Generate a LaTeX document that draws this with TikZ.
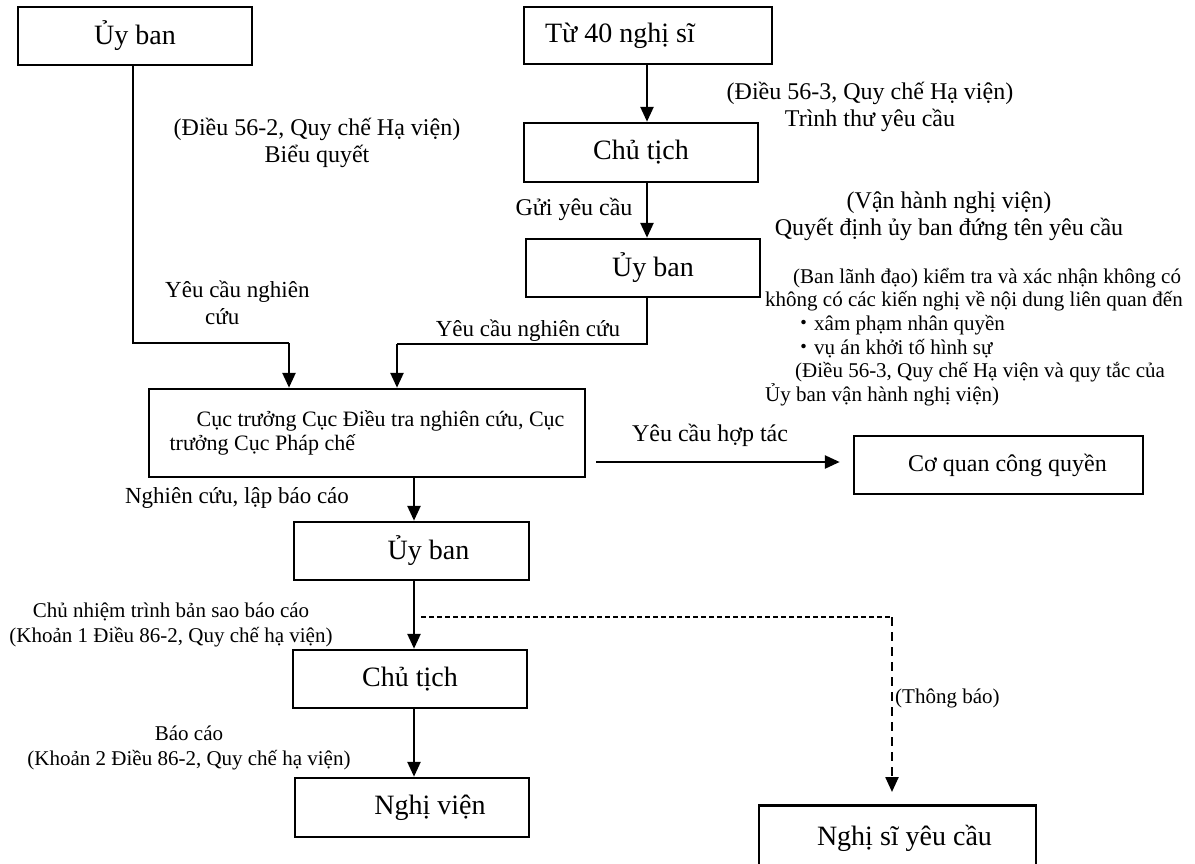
\documentclass[tikz,border=0pt]{standalone}
\usepackage{fontspec}
\setmainfont{Liberation Serif}
\newfontfamily\cjkjp{Noto Sans CJK JP}
\usetikzlibrary{arrows.meta}

\begin{document}
\begin{tikzpicture}[x=1pt,y=-1pt,
  box/.style={draw, line width=2.5pt, inner sep=0pt, font=\fontsize{28}{32}\selectfont},
  lbl/.style={inner sep=0pt, align=center, font=\fontsize{24}{27}\selectfont},
  lblm/.style={inner sep=0pt, align=center, font=\fontsize{23}{26}\selectfont},
  lbls/.style={inner sep=0pt, align=center, font=\fontsize{21}{25}\selectfont},
  fine/.style={line width=1.2pt},
  flow/.style={line width=2.6pt, -{Triangle[length=15pt,width=13pt]}},
  dashfine/.style={line width=1.2pt, dash pattern=on 5pt off 3pt},
  dashflow/.style={line width=2.4pt, dash pattern=on 9pt off 6pt, -{Triangle[length=15pt,width=13pt]}}
]
\useasboundingbox (0,0) rectangle (1195,863);
\fill[white] (0,0) rectangle (1195,863);

% boxes
\node[box, minimum width=234pt, minimum height=58pt] (ub1) at (135,36) {Ủy ban};
\node[box, minimum width=248pt, minimum height=57pt] (t40) at (648,35.5) {Từ 40 nghị sĩ\hspace*{56pt}};
\node[box, minimum width=234pt, minimum height=59pt] (ct1) at (641,152.5) {Chủ tịch};
\node[box, minimum width=234pt, minimum height=58pt] (ub2) at (643,268) {\hspace*{20pt}Ủy ban};
\node[box, minimum width=436pt, minimum height=88pt, align=left,
      font=\fontsize{22}{24}\selectfont] (cq) at (367,433)
  {\hspace*{27pt}Cục trưởng Cục Điều tra nghiên cứu, Cục\\trưởng Cục Pháp chế};
\node[box, minimum width=289pt, minimum height=58pt,
      font=\fontsize{24}{28}\selectfont] (cqq) at (998.5,465) {\hspace*{18pt}Cơ quan công quyền};
\node[box, minimum width=235pt, minimum height=58pt] (ub3) at (411.5,551) {\hspace*{34pt}Ủy ban};
\node[box, minimum width=234pt, minimum height=58pt] (ct2) at (410,679) {Chủ tịch};
\node[box, minimum width=234pt, minimum height=59pt] (nv) at (412,807.5) {\hspace*{36pt}Nghị viện};
\node[box, minimum width=277pt, minimum height=66pt, anchor=north] (nsyc) at (897.5,804)
  {\raisebox{6pt}{\hspace*{14pt}Nghị sĩ yêu cầu}};

% bend points and arrow columns
\coordinate (c1) at (647,0);
\coordinate (c2) at (414,0);
\coordinate (c3) at (0,462);
\coordinate (k1) at (133,343);
\coordinate (k2) at (289,343);
\coordinate (k3) at (647,344);
\coordinate (k4) at (397,344);
\coordinate (d1) at (892,617);

% connectors
\draw[flow] (t40.south -| c1) -- (ct1.north -| c1);
\draw[flow] (ct1.south -| c1) -- (ub2.north -| c1);
\draw[fine] (ub1.south -| k1) -- (k1) -- (k2);
\draw[flow] (k2) -- (k2 |- cq.north);
\draw[fine] (ub2.south -| k3) -- (k3) -- (k4);
\draw[flow] (k4) -- (k4 |- cq.north);
\draw[flow, shorten <=10pt, shorten >=13pt] (cq.east |- c3) -- (cqq.west |- c3);
\draw[flow] (cq.south -| c2) -- (ub3.north -| c2);
\draw[flow] (ub3.south -| c2) -- (ct2.north -| c2);
\draw[flow] (ct2.south -| c2) -- (nv.north -| c2);
\draw[dashfine, shorten <=7pt] (c2 |- d1) -- (d1);
\draw[dashflow, shorten >=12pt] (d1) -- (nsyc.north -| d1);

% labels
\node[lbl] (n562) at (317,143) {(Điều 56-2, Quy chế Hạ viện)\\Biểu quyết};
\node[lbl] (n563) at (870,107) {(Điều 56-3, Quy chế Hạ viện)\\Trình thư yêu cầu};
\node[lbl] (ngui) at (574,209) {Gửi yêu cầu};
\node[lbl] (nvh) at (949,216) {(Vận hành nghị viện)\\Quyết định ủy ban đứng tên yêu cầu};
\node[lbls, align=left, anchor=west, font=\fontsize{21}{23.6}\selectfont] (nbl) at (765,337)
  {\hspace*{28pt}(Ban lãnh đạo) kiểm tra và xác nhận không có\\
   không có các kiến nghị về nội dung liên quan đến\\
   \hspace*{28pt}{\cjkjp ・}xâm phạm nhân quyền\\
   \hspace*{28pt}{\cjkjp ・}vụ án khởi tố hình sự\\
   \hspace*{30pt}(Điều 56-3, Quy chế Hạ viện và quy tắc của\\
   Ủy ban vận hành nghị viện)};
\node[lblm, align=left, anchor=west, font=\fontsize{23}{27}\selectfont] (nyc1) at (165,303)
  {Yêu cầu nghiên\\\hspace*{40pt}cứu};
\node[lblm] (nyc2) at (528,331) {Yêu cầu nghiên cứu};
\node[lbl] (nht) at (710,435) {Yêu cầu hợp tác};
\node[lblm] (nnc) at (237,498) {Nghiên cứu, lập báo cáo};
\node[lbls] (ncn) at (171,625) {Chủ nhiệm trình bản sao báo cáo\\(Khoản 1 Điều 86-2, Quy chế hạ viện)};
\node[lbls] (nbc) at (189,748) {Báo cáo\\(Khoản 2 Điều 86-2, Quy chế hạ viện)};
\node[lbls, anchor=west] (ntb) at (895,698) {(Thông báo)};
\end{tikzpicture}
\end{document}
